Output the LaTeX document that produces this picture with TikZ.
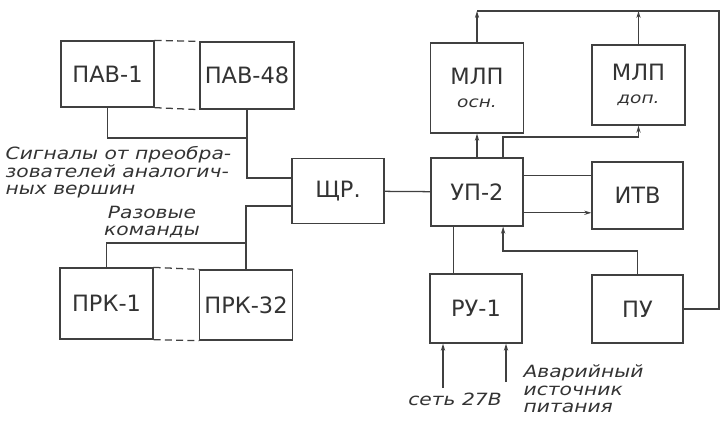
\documentclass[tikz,border=0pt]{standalone}
\usepackage{fontspec}
\setmainfont{DejaVu Sans}
\newfontfamily\handit[FakeStretch=1.2]{DejaVu Sans}
\newcommand\subtxt[1]{{\handit\itshape\fontsize{11}{12}\selectfont #1}}
\usepackage{tikz}
\usetikzlibrary{arrows.meta,calc}

\begin{document}
\begin{tikzpicture}[
      x=0.025cm, y=-0.025cm,
      >={Stealth[length=5pt,width=3pt]},
      color=black!75, line width=0.9pt,
      blk/.style={draw, minimum width=2.3cm, minimum height=1.7cm, align=center, text=black!80, font=\fontsize{16}{18}\selectfont},
      lab/.style={align=left, text=black!80, font=\handit\itshape\fontsize{12}{12.5}\selectfont, inner sep=0pt}]
    \useasboundingbox (0,0) rectangle (722,423);
    % Left group: analogue converters, commands, distributor
    \node[blk, minimum width=93*0.025cm, minimum height=66*0.025cm] (pav1)  at (107.5,74)  {ПАВ-1};
    \node[blk, minimum width=90*0.025cm, minimum height=67*0.025cm] (pav48) at (247,75.5)  {ПАВ-48};
    \node[blk, minimum width=92*0.025cm, minimum height=65*0.025cm] (shr)   at (338,191)   {ЩР.};
    \node[blk, minimum width=93*0.025cm, minimum height=71*0.025cm] (prk1)  at (106.5,303.5) {ПРК-1};
    \node[blk, minimum width=89*0.025cm, minimum height=70*0.025cm] (prk32) at (246,305)   {ПРК-32};
    % Right group
    \node[blk, minimum width=93*0.025cm, minimum height=90*0.025cm] (mlp1) at (477,88)    {МЛП\\[-2pt]\subtxt{осн.}};
    \node[blk, minimum width=93*0.025cm, minimum height=80*0.025cm] (mlp2) at (638.5,85)  {МЛП\\[-2pt]\subtxt{доп.}};
    \node[blk, minimum width=92*0.025cm, minimum height=68*0.025cm] (up2)  at (477,192)   {УП-2};
    \node[blk, minimum width=91*0.025cm, minimum height=67*0.025cm] (itv)  at (637.5,195.5) {ИТВ};
    \node[blk, minimum width=92*0.025cm, minimum height=69*0.025cm] (ru1)  at (476,308.5) {РУ-1};
    \node[blk, minimum width=91*0.025cm, minimum height=68*0.025cm] (pu)   at (637.5,309) {ПУ};
    % Labels
    \node[lab, anchor=north west] (sig) at (5,146) {Сигналы от преобра-\\зователей аналогич-\\ных вершин};
    \node[lab, align=center] (cmd) at (152,222) {Разовые\\команды};
    \node[lab] (mains) at (455,399) {сеть 27В};
    \node[lab, anchor=north west] (res) at (523,364) {Аварийный\\источник\\питания};
    % Junctions and bends
    \coordinate (pavbus) at (247,138);
    \coordinate (prkbus) at (247,243);
    \coordinate (in1) at (292,178);
    \coordinate (in2) at (292,206);
    \coordinate (topL) at (477,11);
    \coordinate (topR) at (719,11);
    \coordinate (upA) at ($(up2.north west)!0.78!(up2.north east)$);
    \coordinate (mlpturn) at (638.5,137);
    \coordinate (upB) at ($(up2.south west)!0.25!(up2.south east)$);
    \coordinate (upC) at ($(up2.south west)!0.78!(up2.south east)$);
    \coordinate (puturn) at (637.5,251);
    \coordinate (upI1) at ($(up2.north east)!0.26!(up2.south east)$);
    \coordinate (upI2) at ($(up2.north east)!0.8!(up2.south east)$);
    \coordinate (mainsin) at (443,388);
    \coordinate (resin) at (506,382);
    % Dashed links between first and last units
    \draw[dash pattern=on 5pt off 3pt] (pav1.north east) -- (pav48.north west);
    \draw[dash pattern=on 5pt off 3pt] (pav1.south east) -- (pav48.south west);
    \draw[dash pattern=on 5pt off 3pt] (prk1.north east) -- (prk32.north west);
    \draw[dash pattern=on 5pt off 3pt] (prk1.south east) -- (prk32.south west);
    % Connectors
    \draw (pav1.south) |- (pavbus);
    \draw (pav48.south) |- (in1);
    \draw (prk1.north) |- (prkbus);
    \draw (prk32.north) |- (in2);
    \draw (shr) -- (up2);
    \draw[->] (up2) -- (mlp1);
    \draw[->] (mlp1) -- (topL);
    \draw[->] (mlp2.north) -- (mlp2.north |- topL);
    \draw (topL) -- (topR) |- (pu.east);
    \draw[->] (upA) |- (mlpturn) -- (mlp2.south);
    \draw (upI1) -- (upI1 -| itv.west);
    \draw[->] (upI2) -- (upI2 -| itv.west);
    \draw (upB) -- (upB |- ru1.north);
    \draw[<-] (upC) |- (puturn) -- (pu.north);
    \draw[->] (mainsin) -- (mainsin |- ru1.south);
    \draw[->] (resin) -- (resin |- ru1.south);
  \end{tikzpicture}
\end{document}
